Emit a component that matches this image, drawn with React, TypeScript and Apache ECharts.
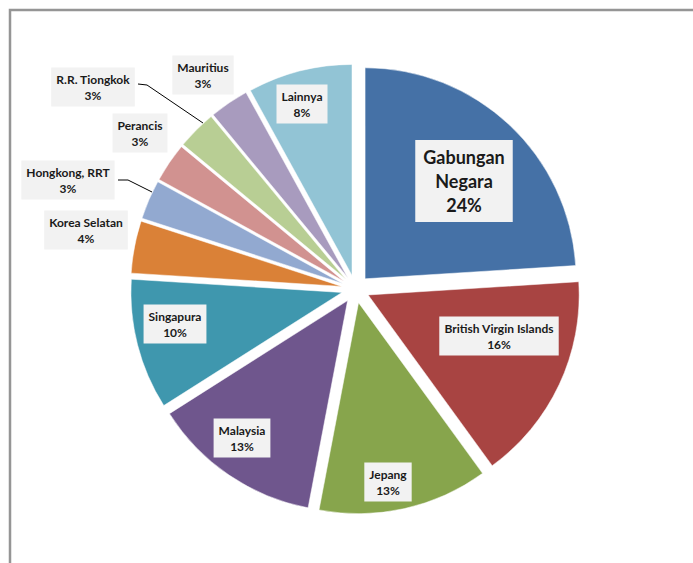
import React, { useEffect, useRef } from 'react';
import * as echarts from 'echarts';

const categories = [
  'Gabungan Negara',
  'British Virgin Islands',
  'Jepang',
  'Malaysia',
  'Singapura',
  'Korea Selatan',
  'Hongkong, RRT',
  'Perancis',
  'R.R. Tiongkok',
  'Mauritius',
  'Lainnya',
];
const shares = [24, 16, 13, 13, 10, 4, 3, 3, 3, 3, 8];
const colors = [
  '#4571A6', '#A84442', '#87A54C', '#6F568D', '#3F97AE', '#DA8137',
  '#92A9D0', '#D19290', '#B8CE94', '#A89BBE', '#92C4D5',
];
const labelCenters = [
  [464, 181], [499, 336], [388, 482], [242, 438], [175, 324], [86, 230],
  [68, 180], [140, 133], [93, 87], [203, 75], [302, 104],
];
const leaderLines: Record<number, number[][]> = {
  6: [[152, 192], [128, 180], [118, 180]],
  8: [[203, 123], [147, 85], [138, 84]],
};

const CX = 355.5;
const CY = 289;
const R = 211;
const EXPLODE = 14;

export default function App() {
  const ref = useRef<HTMLDivElement>(null);
  useEffect(() => {
    if (!ref.current) return;
    const chart = echarts.init(ref.current, null, { renderer: 'svg' });
    const total = shares.reduce((a, b) => a + b, 0);
    let cum = 0;
    const series = categories.map((_, target) => {
      const mid = ((cum + shares[target] / 2) / total) * Math.PI * 2;
      cum += shares[target];
      const dx = EXPLODE * Math.sin(mid);
      const dy = -EXPLODE * Math.cos(mid);
      const data = categories.map((name, i) => ({
        name,
        value: shares[i],
        itemStyle:
          i === target
            ? { color: colors[i], borderColor: '#ffffff', borderWidth: 0.5 }
            : { color: 'rgba(0,0,0,0)', borderWidth: 0 },
        label:
          i === target
            ? i === 0
              ? { show: true, fontSize: 18, fontWeight: 'bold', lineHeight: 24, padding: [6, 8, 4, 8] }
              : { show: true }
            : { show: false },
        labelLine: { show: i === target && !!leaderLines[i] },
      }));
      return {
        type: 'pie',
        name: categories[target],
        center: [CX + dx, CY + dy],
        radius: R,
        startAngle: 90,
        clockwise: true,
        avoidLabelOverlap: false,
        silent: true,
        emphasis: { disabled: true },
        label: {
          position: leaderLines[target] ? 'outside' : 'inside',
          color: '#1a1a1a',
          fontFamily: 'Lato',
          fontWeight: 'bold',
          fontSize: 12,
          lineHeight: 16,
          backgroundColor: '#F2F2F2',
          padding: [4, 5, 3, 5],
          align: 'center',
          formatter: (p: any) =>
            p.dataIndex === 0
              ? p.name.replace(' ', '\n') + '\n' + p.value + '%'
              : p.name + '\n' + p.value + '%',
        },
        labelLine: { lineStyle: { color: '#000', width: 1 } },
        labelLayout: (params: any) => {
          if (params.dataIndex !== target) return {};
          const c = labelCenters[target];
          const out: any = { x: c[0], y: c[1], align: 'center', verticalAlign: 'middle' };
          if (leaderLines[target]) out.labelLinePoints = leaderLines[target];
          return out;
        },
        data,
      };
    });
    chart.setOption({
      animation: false,
      graphic: [
        {
          type: 'rect',
          silent: true,
          shape: { x: 10, y: 10, width: 720, height: 620 },
          style: { fill: 'none', stroke: '#959595', lineWidth: 2.5 },
        },
      ],
      series,
    });
    return () => chart.dispose();
  }, []);
  return (
    <div
      ref={ref}
      style={{ position: 'fixed', left: 0, top: 0, width: 693, height: 563, background: '#fff' }}
    />
  );
}
